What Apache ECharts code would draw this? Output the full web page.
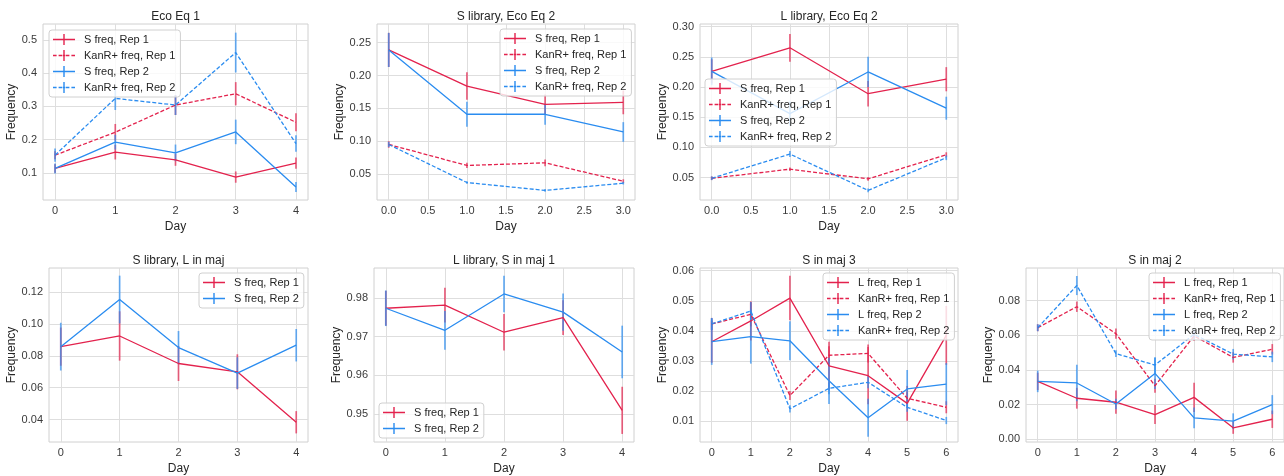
<!DOCTYPE html>
<html>
<head>
<meta charset="utf-8">
<script src="https://cdn.jsdelivr.net/npm/echarts@6/dist/echarts.min.js"></script>
<style>
  html, body { margin: 0; padding: 0; background: #ffffff; }
  #chart { width: 1284px; height: 476px; }
</style>
</head>
<body>
<div id="chart"></div>
<script>
// ---- x values (days) and tick labels ----
const days5 = [0, 1, 2, 3, 4];
const days4 = [0, 1, 2, 3];
const days7 = [0, 1, 2, 3, 4, 5, 6];
const xTicks5 = [0, 1, 2, 3, 4];
const xTicksHalf = [0, 0.5, 1, 1.5, 2, 2.5, 3];
const xTicks7 = [0, 1, 2, 3, 4, 5, 6];

// ---- Eco Eq 1 ----
const eq1SRep1 = [0.113, 0.162, 0.139, 0.087, 0.129];
const eq1SRep1Err = [0.013, 0.022, 0.018, 0.017, 0.017];
const eq1KanRep1 = [0.153, 0.222, 0.304, 0.338, 0.252];
const eq1KanRep1Err = [0.012, 0.025, 0.030, 0.035, 0.027];
const eq1SRep2 = [0.113, 0.192, 0.160, 0.223, 0.057];
const eq1SRep2Err = [0.015, 0.022, 0.025, 0.037, 0.015];
const eq1KanRep2 = [0.153, 0.324, 0.304, 0.462, 0.188];
const eq1KanRep2Err = [0.020, 0.035, 0.030, 0.060, 0.025];
const eq1YTicks = [0.1, 0.2, 0.3, 0.4, 0.5];

// ---- S library, Eco Eq 2 ----
const sLibSRep1 = [0.239, 0.184, 0.156, 0.159];
const sLibSRep1Err = [0.026, 0.021, 0.015, 0.018];
const sLibKanRep1 = [0.095, 0.063, 0.067, 0.039];
const sLibKanRep1Err = [0.005, 0.004, 0.005, 0.003];
const sLibSRep2 = [0.239, 0.141, 0.141, 0.114];
const sLibSRep2Err = [0.026, 0.019, 0.016, 0.015];
const sLibKanRep2 = [0.095, 0.037, 0.025, 0.036];
const sLibKanRep2Err = [0.004, 0.002, 0.002, 0.002];
const sLibYTicks = [0.05, 0.10, 0.15, 0.20, 0.25];

// ---- L library, Eco Eq 2 ----
const lLibSRep1 = [0.226, 0.265, 0.189, 0.213];
const lLibSRep1Err = [0.020, 0.023, 0.021, 0.020];
const lLibKanRep1 = [0.049, 0.064, 0.048, 0.088];
const lLibKanRep1Err = [0.003, 0.003, 0.003, 0.004];
const lLibSRep2 = [0.226, 0.156, 0.225, 0.165];
const lLibSRep2Err = [0.023, 0.020, 0.025, 0.019];
const lLibKanRep2 = [0.049, 0.089, 0.029, 0.083];
const lLibKanRep2Err = [0.003, 0.005, 0.003, 0.004];
const lLibYTicks = [0.05, 0.10, 0.15, 0.20, 0.25, 0.30];

// ---- S library, L in maj ----
const lMajSRep1 = [0.0858, 0.0925, 0.0752, 0.0700, 0.0383];
const lMajSRep1Err = [0.012, 0.0155, 0.011, 0.011, 0.007];
const lMajSRep2 = [0.0858, 0.1154, 0.0852, 0.0692, 0.0867];
const lMajSRep2Err = [0.015, 0.015, 0.0104, 0.0099, 0.0102];
const lMajYTicks = [0.04, 0.06, 0.08, 0.10, 0.12];

// ---- L library, S in maj 1 ----
const sMaj1SRep1 = [0.9773, 0.9781, 0.9711, 0.9749, 0.9509];
const sMaj1SRep1Err = [0.0045, 0.0045, 0.0047, 0.0045, 0.0061];
const sMaj1SRep2 = [0.9773, 0.9716, 0.9810, 0.9763, 0.9660];
const sMaj1SRep2Err = [0.0046, 0.0050, 0.0047, 0.0048, 0.0068];
const sMaj1YTicks = [0.95, 0.96, 0.97, 0.98];

// ---- S in maj 3 ----
const sMaj3LRep1 = [0.0364, 0.0433, 0.0509, 0.0284, 0.0251, 0.0159, 0.0385];
const sMaj3LRep1Err = [0.0070, 0.0065, 0.0074, 0.0080, 0.0095, 0.0058, 0.0098];
const sMaj3KanRep1 = [0.0423, 0.0455, 0.0185, 0.0319, 0.0325, 0.0176, 0.0146];
const sMaj3KanRep1Err = [0.0020, 0.0040, 0.0015, 0.0030, 0.0030, 0.0020, 0.0020];
const sMaj3LRep2 = [0.0364, 0.0381, 0.0367, 0.0234, 0.0111, 0.0207, 0.0223];
const sMaj3LRep2Err = [0.0077, 0.0090, 0.0065, 0.0077, 0.0063, 0.0063, 0.0070];
const sMaj3KanRep2 = [0.0423, 0.0466, 0.0141, 0.0209, 0.0229, 0.0146, 0.0102];
const sMaj3KanRep2Err = [0.0020, 0.0030, 0.0012, 0.0020, 0.0020, 0.0015, 0.0012];
const sMaj3YTicks = [0.01, 0.02, 0.03, 0.04, 0.05, 0.06];

// ---- S in maj 2 ----
const sMaj2LRep1 = [0.0334, 0.0237, 0.0214, 0.0143, 0.0242, 0.0067, 0.0116];
const sMaj2LRep1Err = [0.0050, 0.0060, 0.0067, 0.0055, 0.0084, 0.0035, 0.0050];
const sMaj2KanRep1 = [0.0643, 0.0764, 0.0609, 0.0309, 0.0596, 0.0472, 0.0519];
const sMaj2KanRep1Err = [0.0020, 0.0030, 0.0030, 0.0040, 0.0030, 0.0030, 0.0030];
const sMaj2LRep2 = [0.0334, 0.0325, 0.0204, 0.0380, 0.0124, 0.0105, 0.0200];
const sMaj2LRep2Err = [0.0062, 0.0105, 0.0030, 0.0090, 0.0060, 0.0045, 0.0055];
const sMaj2KanRep2 = [0.0643, 0.0886, 0.0494, 0.0428, 0.0605, 0.0491, 0.0475];
const sMaj2KanRep2Err = [0.0020, 0.0055, 0.0020, 0.0045, 0.0030, 0.0030, 0.0030];
const sMaj2YTicks = [0.00, 0.02, 0.04, 0.06, 0.08];

// ---- styling ----
const RED = '#e3224d';
const BLUE = '#2a8cf0';
const FONT = '"Liberation Sans", Arial, "DejaVu Sans", sans-serif';
const TEXT = '#262626';
const TICK_TEXT = '#3a3a3a';
const GRID_LINE = '#dedede';
const FRAME = '#d0d0d0';

// legend handles: a line crossed by a short vertical error bar
const SOLID_ICON = 'path://M0,4.8H22V6.2H0Z M10.3,0H11.7V11H10.3Z';
const DASH_ICON = 'path://M0,4.8H3.6V6.2H0Z M5.6,4.8H9.2V6.2H5.6Z M9.8,4.8H12.2V6.2H9.8Z M10.3,0H11.7V11H10.3Z M12.8,4.8H16.4V6.2H12.8Z M18.4,4.8H22V6.2H18.4Z';

function line(name, values, errors, color, dashed) {
  return { name, values, errors, color, dashed };
}

const panels = [
  { title: 'Eco Eq 1', days: days5, xTicks: xTicks5, yTicks: eq1YTicks, series: [
    line('S freq, Rep 1', eq1SRep1, eq1SRep1Err, RED, false),
    line('KanR+ freq, Rep 1', eq1KanRep1, eq1KanRep1Err, RED, true),
    line('S freq, Rep 2', eq1SRep2, eq1SRep2Err, BLUE, false),
    line('KanR+ freq, Rep 2', eq1KanRep2, eq1KanRep2Err, BLUE, true)] },
  { title: 'S library, Eco Eq 2', days: days4, xTicks: xTicksHalf, yTicks: sLibYTicks, series: [
    line('S freq, Rep 1', sLibSRep1, sLibSRep1Err, RED, false),
    line('KanR+ freq, Rep 1', sLibKanRep1, sLibKanRep1Err, RED, true),
    line('S freq, Rep 2', sLibSRep2, sLibSRep2Err, BLUE, false),
    line('KanR+ freq, Rep 2', sLibKanRep2, sLibKanRep2Err, BLUE, true)] },
  { title: 'L library, Eco Eq 2', days: days4, xTicks: xTicksHalf, yTicks: lLibYTicks, series: [
    line('S freq, Rep 1', lLibSRep1, lLibSRep1Err, RED, false),
    line('KanR+ freq, Rep 1', lLibKanRep1, lLibKanRep1Err, RED, true),
    line('S freq, Rep 2', lLibSRep2, lLibSRep2Err, BLUE, false),
    line('KanR+ freq, Rep 2', lLibKanRep2, lLibKanRep2Err, BLUE, true)] },
  { title: 'S library, L in maj', days: days5, xTicks: xTicks5, yTicks: lMajYTicks, series: [
    line('S freq, Rep 1', lMajSRep1, lMajSRep1Err, RED, false),
    line('S freq, Rep 2', lMajSRep2, lMajSRep2Err, BLUE, false)] },
  { title: 'L library, S in maj 1', days: days5, xTicks: xTicks5, yTicks: sMaj1YTicks, series: [
    line('S freq, Rep 1', sMaj1SRep1, sMaj1SRep1Err, RED, false),
    line('S freq, Rep 2', sMaj1SRep2, sMaj1SRep2Err, BLUE, false)] },
  { title: 'S in maj 3', days: days7, xTicks: xTicks7, yTicks: sMaj3YTicks, series: [
    line('L freq, Rep 1', sMaj3LRep1, sMaj3LRep1Err, RED, false),
    line('KanR+ freq, Rep 1', sMaj3KanRep1, sMaj3KanRep1Err, RED, true),
    line('L freq, Rep 2', sMaj3LRep2, sMaj3LRep2Err, BLUE, false),
    line('KanR+ freq, Rep 2', sMaj3KanRep2, sMaj3KanRep2Err, BLUE, true)] },
  { title: 'S in maj 2', days: days7, xTicks: xTicks7, yTicks: sMaj2YTicks, series: [
    line('L freq, Rep 1', sMaj2LRep1, sMaj2LRep1Err, RED, false),
    line('KanR+ freq, Rep 1', sMaj2KanRep1, sMaj2KanRep1Err, RED, true),
    line('L freq, Rep 2', sMaj2LRep2, sMaj2LRep2Err, BLUE, false),
    line('KanR+ freq, Rep 2', sMaj2KanRep2, sMaj2KanRep2Err, BLUE, true)] }
];

// Panel placement: plot box [left, top, width, height], legend corner,
// axis extents and label decimals.
const layout = [
  { box: [43, 24, 265, 176],  legend: [49, 30],   yGap: 20, x: [-0.2, 4.2],   xDec: 0, y: [0.018, 0.548],   yDec: 1 },
  { box: [377, 24, 258, 176], legend: [500, 29],  yGap: 27, x: [-0.15, 3.15], xDec: 1, y: [0.0104, 0.2785], yDec: 2 },
  { box: [700, 24, 258, 176], legend: [705, 79],  yGap: 27, x: [-0.15, 3.15], xDec: 1, y: [0.013, 0.3044],  yDec: 2 },
  { box: [49, 268, 259, 175], legend: [199, 273], yGap: 27, x: [-0.2, 4.2],   xDec: 0, y: [0.0259, 0.1352], yDec: 2 },
  { box: [374, 268, 260, 175], legend: [379, 403], yGap: 26, x: [-0.2, 4.2],  xDec: 0, y: [0.94272, 0.98771], yDec: 2 },
  { box: [700, 268, 258, 175], legend: [823, 273], yGap: 27, x: [-0.3, 6.3],  xDec: 0, y: [0.00306, 0.0609], yDec: 2 },
  { box: [1026, 268, 258, 175], legend: [1149, 273], yGap: 27, x: [-0.3, 6.3], xDec: 0, y: [-0.0015, 0.0987], yDec: 2 }
];

const option = {
  animation: false,
  backgroundColor: '#ffffff',
  textStyle: { fontFamily: FONT },
  title: [], grid: [], xAxis: [], yAxis: [], legend: [], series: []
};

panels.forEach((p, i) => {
  const L = layout[i];
  const [left, top, width, height] = L.box;

  option.grid.push({
    left, top, width, height,
    show: true, borderColor: FRAME, borderWidth: 1, backgroundColor: 'transparent'
  });

  option.title.push({
    text: p.title,
    left: left + width / 2,
    top: top - 13,
    textAlign: 'center',
    padding: 0,
    textStyle: { fontSize: 12, fontWeight: 'normal', color: TEXT, fontFamily: FONT }
  });

  option.xAxis.push({
    gridIndex: i, type: 'value', min: L.x[0], max: L.x[1],
    name: 'Day', nameLocation: 'middle', nameGap: 21,
    nameTextStyle: { fontSize: 12, color: TEXT, fontFamily: FONT },
    axisLine: { show: false },
    axisTick: { show: false, customValues: p.xTicks },
    axisLabel: {
      customValues: p.xTicks, margin: 5, fontSize: 11, color: TICK_TEXT, fontFamily: FONT,
      formatter: v => Number(v).toFixed(L.xDec)
    },
    splitLine: { show: true, lineStyle: { color: GRID_LINE, width: 1 } }
  });

  option.yAxis.push({
    gridIndex: i, type: 'value', min: L.y[0], max: L.y[1],
    name: 'Frequency', nameLocation: 'middle', nameGap: L.yGap,
    nameTextStyle: { fontSize: 12, color: TEXT, fontFamily: FONT },
    axisLine: { show: false },
    axisTick: { show: false, customValues: p.yTicks },
    axisLabel: {
      customValues: p.yTicks, margin: 6, fontSize: 11, color: TICK_TEXT, fontFamily: FONT,
      formatter: v => Number(v).toFixed(L.yDec)
    },
    splitLine: { show: true, lineStyle: { color: GRID_LINE, width: 1 } }
  });

  option.legend.push({
    left: L.legend[0], top: L.legend[1],
    orient: 'vertical', selectedMode: false,
    data: p.series.map(s => ({ name: s.name, icon: s.dashed ? DASH_ICON : SOLID_ICON })),
    itemWidth: 22, itemHeight: 11, itemGap: 3,
    padding: [3, 5, 3, 4],
    backgroundColor: 'rgba(255,255,255,0.8)',
    borderColor: FRAME, borderWidth: 1, borderRadius: 3,
    itemStyle: { borderWidth: 0 },
    textStyle: { fontSize: 11, color: TEXT, fontFamily: FONT, lineHeight: 13, padding: [0, 0, 0, 4] },
    z: 10
  });

  p.series.forEach(s => {
    // vertical error bars
    option.series.push({
      type: 'custom',
      name: s.name + ' (error)',
      xAxisIndex: i, yAxisIndex: i,
      data: p.days.map((d, j) => [d, s.values[j] - s.errors[j], s.values[j] + s.errors[j]]),
      encode: { x: 0, y: [1, 2] },
      clip: true, silent: true, z: 2,
      renderItem: (params, api) => {
        const a = api.coord([api.value(0), api.value(1)]);
        const b = api.coord([api.value(0), api.value(2)]);
        return {
          type: 'line',
          shape: { x1: a[0], y1: a[1], x2: b[0], y2: b[1] },
          style: { stroke: s.color, lineWidth: 1.7, opacity: 0.7 }
        };
      }
    });
    // mean line
    option.series.push({
      type: 'line',
      name: s.name,
      xAxisIndex: i, yAxisIndex: i,
      data: p.days.map((d, j) => [d, s.values[j]]),
      symbol: 'none', showSymbol: false, silent: true, z: 3,
      itemStyle: { color: s.color, borderWidth: 0 },
      lineStyle: { color: s.color, width: 1.3, type: s.dashed ? [4, 2] : 'solid' }
    });
  });
});

const chart = echarts.init(document.getElementById('chart'), null, { renderer: 'canvas' });
chart.setOption(option);
</script>
</body>
</html>
